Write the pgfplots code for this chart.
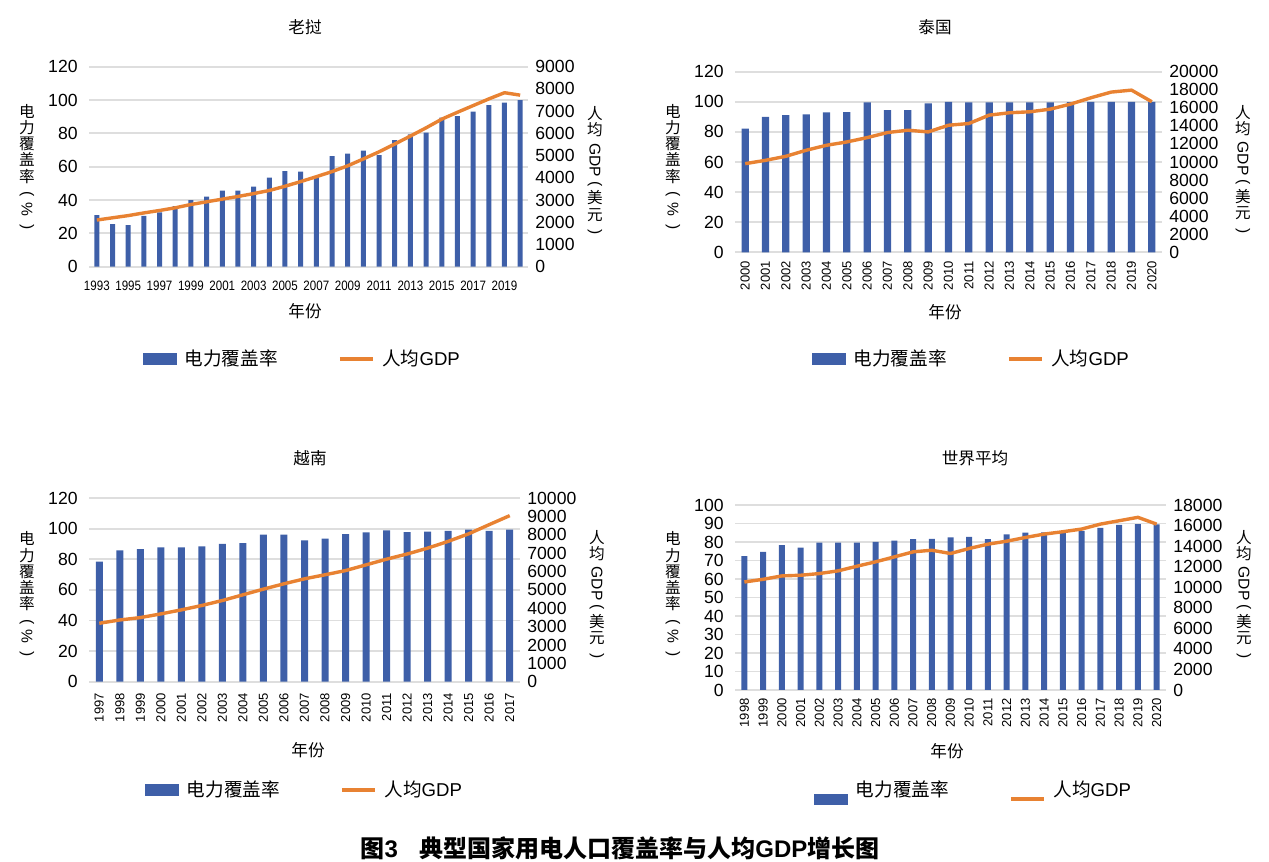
\documentclass[border=0pt]{standalone}
\usepackage{fontspec}
\setmainfont{Liberation Sans}
\newfontfamily\cjk{Noto Sans CJK SC}
\usepackage{pgfplots}
\usepackage{pgfplotstable}
\pgfplotsset{compat=1.18}
\definecolor{barblue}{RGB}{62,95,168}
\definecolor{lineor}{RGB}{232,130,50}
\definecolor{gridc}{RGB}{222,222,222}

\pgfplotstableread{
y c g
1993 31 2100
1994 25.6 2200
1995 25 2300
1996 30.5 2420
1997 32.6 2530
1998 36.4 2650
1999 40 2800
2000 42 2920
2001 45.6 3040
2002 45.6 3160
2003 48 3290
2004 53.4 3430
2005 57.4 3620
2006 57 3830
2007 54 4050
2008 66.4 4280
2009 67.8 4540
2010 69.6 4850
2011 67 5170
2012 76 5520
2013 79.4 5880
2014 80.5 6250
2015 89.4 6640
2016 90.4 6950
2017 93 7250
2018 97 7550
2019 98.4 7830
2020 100 7720
}\laos

\pgfplotstableread{
y c g
2000 82.2 9815
2001 90 10185
2002 91.1 10630
2003 91.6 11300
2004 92.9 11850
2005 93.1 12220
2006 99.6 12700
2007 94.4 13260
2008 94.4 13520
2009 98.9 13330
2010 100 14070
2011 99.6 14260
2012 99.6 15190
2013 99.6 15450
2014 99.6 15560
2015 99.6 15850
2016 99.8 16410
2017 100 17110
2018 100 17740
2019 100 17960
2020 100 16670
}\thai

\pgfplotstableread{
y c g
1997 78.5 3180
1998 85.8 3360
1999 86.6 3490
2000 87.7 3690
2001 87.7 3910
2002 88.4 4150
2003 90.1 4420
2004 90.6 4730
2005 96 5040
2006 96 5330
2007 92.3 5600
2008 93.4 5820
2009 96.4 6050
2010 97.5 6360
2011 98.8 6670
2012 97.7 6950
2013 98 7270
2014 98.6 7640
2015 99.3 8050
2016 98.6 8550
2017 99.3 9040
}\viet

\pgfplotstableread{
y c g
1998 72.3 10510
1999 74.7 10770
2000 78.3 11100
2001 77 11165
2002 79.6 11330
2003 79.6 11590
2004 79.6 12040
2005 80.1 12470
2006 80.7 12950
2007 81.6 13440
2008 81.7 13600
2009 82.5 13280
2010 82.8 13770
2011 81.6 14190
2012 84.1 14480
2013 85 14840
2014 85.2 15170
2015 85.5 15400
2016 86 15660
2017 87.7 16140
2018 89.2 16470
2019 89.7 16800
2020 89.5 16140
}\world

\pgfplotsset{
  base/.style={scale only axis, anchor=south west,
    axis line style={draw=none}, major tick length=0pt, tick style={draw=none},
    /pgf/number format/assume math mode=true,
    /pgf/number format/1000 sep={}, ymin=0, scaled y ticks=false},
  leftax/.style={base, ymajorgrids, grid style={gridc, line width=0.9pt},
    yticklabel style={font=\fontsize{8.8}{9}\selectfont, inner sep=0pt},
    yticklabel shift=5.5pt},
  rightax/.style={base, axis y line*=right, axis x line=none,
    yticklabel style={font=\fontsize{8.8}{9}\selectfont, inner sep=0pt, anchor=west},
    yticklabel shift=3.5pt},
  rotx/.style={xticklabel style={font=\fontsize{6.5}{7}\selectfont, rotate=90, anchor=east, inner sep=0pt}, xticklabel shift=#1},
  leg/.style n args={2}{legend columns=2, legend cell align=left,
    legend style={draw=none, fill=none, at={(#1,#2)}, anchor=west, inner sep=0pt,
      font=\cjk\fontsize{9.3}{10}\selectfont, nodes={inner sep=0pt},
      /tikz/every odd column/.append style={column sep=3.8pt},
      /tikz/every even column/.append style={column sep=30pt}}},
  lineimg/.style={legend image code/.code={\draw[lineor, line width=2pt] (0pt,#1)--(16.5pt,#1);}},
  barimg/.style={legend image code/.code={\fill[barblue] (0pt,-2.6pt+#1) rectangle (16.5pt,2.6pt+#1);}},
}
\newcommand{\rot}[1]{\rotatebox[origin=c]{-90}{\normalfont #1}}
\newcommand{\ylab}{电\\力\\覆\\盖\\率\\\rot{(}\\\rot{\%}\\\rot{)}}
\newcommand{\ylabr}{人\\均\\[2pt]\rot{GDP}\\[1pt]\rot{(}\\美\\元\\\rot{)}}
\tikzset{lab/.style={font=\cjk\fontsize{7.8}{8.1}\selectfont, align=center, inner sep=0pt},
  ttl/.style={font=\cjk\fontsize{8.3}{9}\selectfont, inner sep=0pt}}

\begin{document}
\begin{tikzpicture}
\useasboundingbox (0,0) rectangle (634.5pt,431pt);

% ---------- Laos ----------
\begin{axis}[leftax, at={(44.5pt,297.65pt)}, width=219.5pt, height=100pt,
  xmin=1992.5, xmax=2020.5, ymax=120, ytick={0,20,...,120},
  xtick={1993,1995,...,2019},
  xticklabel={\scalebox{0.85}[1]{\pgfmathprintnumber{\tick}}},
  xticklabel style={font=\fontsize{6.8}{7}\selectfont, inner sep=0pt, anchor=north},
  xticklabel shift=7pt]
\addplot[ybar, fill=barblue, draw=none, bar width=2.5pt] table[x=y, y=c] {\laos};
\end{axis}
\begin{axis}[rightax, at={(44.5pt,297.65pt)}, width=219.5pt, height=100pt,
  xmin=1992.5, xmax=2020.5, ymax=9000, ytick={0,1000,...,9000}, leg={0.123}{-0.4615}]
\addlegendimage{barimg=0pt}\addlegendentry{电力覆盖率}
\addplot[lineor, line width=1.7pt, line join=round, mark=none, lineimg=0pt] table[x=y, y=g] {\laos};
\addlegendentry{人均{\normalfont GDP}}
\end{axis}
\node[ttl] at (152.5pt,417.5pt) {老挝};
\node[ttl] at (152.5pt,275.5pt) {年份};
\node[lab] at (13.5pt,347.25pt) {\ylab};
\node[lab] at (297.5pt,345.25pt) {\ylabr};

% ---------- Thailand ----------
\begin{axis}[leftax, at={(367.5pt,304.85pt)}, width=213.5pt, height=90.3pt,
  xmin=1999.5, xmax=2020.5, ymax=120, ytick={0,20,...,120},
  xtick={2000,2001,...,2020}, rotx=4.3pt]
\addplot[ybar, fill=barblue, draw=none, bar width=3.6pt] table[x=y, y=c] {\thai};
\end{axis}
\begin{axis}[rightax, at={(367.5pt,304.85pt)}, width=213.5pt, height=90.3pt,
  xmin=1999.5, xmax=2020.5, ymax=20000, ytick={0,2000,...,20000}, leg={0.1803}{-0.5908}]
\addlegendimage{barimg=0pt}\addlegendentry{电力覆盖率}
\addplot[lineor, line width=1.7pt, line join=round, mark=none, lineimg=0pt] table[x=y, y=g] {\thai};
\addlegendentry{人均{\normalfont GDP}}
\end{axis}
\node[ttl] at (467.5pt,417.5pt) {泰国};
\node[ttl] at (472.5pt,275pt) {年份};
\node[lab] at (336.5pt,347.25pt) {\ylab};
\node[lab] at (621.5pt,346pt) {\ylabr};

% ---------- Vietnam ----------
\begin{axis}[leftax, at={(44.5pt,90.15pt)}, width=215.5pt, height=91.85pt,
  xmin=1996.5, xmax=2017.5, ymax=120, ytick={0,20,...,120},
  xtick={1997,1998,...,2017}, rotx=5.5pt]
\addplot[ybar, fill=barblue, draw=none, bar width=3.5pt] table[x=y, y=c] {\viet};
\end{axis}
\begin{axis}[rightax, at={(44.5pt,90.15pt)}, width=215.5pt, height=91.85pt,
  xmin=1996.5, xmax=2017.5, ymax=10000, ytick={0,1000,...,10000}, leg={0.130}{-0.5895}]
\addlegendimage{barimg=0pt}\addlegendentry{电力覆盖率}
\addplot[lineor, line width=1.7pt, line join=round, mark=none, lineimg=0pt] table[x=y, y=g] {\viet};
\addlegendentry{人均{\normalfont GDP}}
\end{axis}
\node[ttl] at (155pt,202pt) {越南};
\node[ttl] at (154pt,56pt) {年份};
\node[lab] at (13.5pt,133.5pt) {\ylab};
\node[lab] at (298.5pt,133.5pt) {\ylabr};

% ---------- World ----------
\begin{axis}[leftax, at={(367.5pt,86pt)}, width=215.5pt, height=92.5pt,
  xmin=1997.5, xmax=2020.5, ymax=100, ytick={0,10,...,100},
  xtick={1998,1999,...,2020}, rotx=4pt]
\addplot[ybar, fill=barblue, draw=none, bar width=3pt] table[x=y, y=c] {\world};
\end{axis}
\begin{axis}[rightax, at={(367.5pt,86pt)}, width=215.5pt, height=92.5pt,
  xmin=1997.5, xmax=2020.5, ymax=18000, ytick={0,2000,...,18000}, leg={0.1833}{-0.557}]
\addlegendimage{barimg=-4.5pt}\addlegendentry{电力覆盖率}
\addplot[lineor, line width=1.7pt, line join=round, mark=none, lineimg=-4.5pt] table[x=y, y=g] {\world};
\addlegendentry{人均{\normalfont GDP}}
\end{axis}
\node[ttl] at (487.5pt,202pt) {世界平均};
\node[ttl] at (473.5pt,55.5pt) {年份};
\node[lab] at (336.5pt,133.5pt) {\ylab};
\node[lab] at (622pt,133.5pt) {\ylabr};

% ---------- caption ----------
\node[font=\cjk\bfseries\fontsize{12}{13}\selectfont, inner sep=0pt] at (310pt,7pt)
  {图{\normalfont\bfseries 3}\hspace{0.9em}典型国家用电人口覆盖率与人均{\normalfont\bfseries GDP}增长图};
\end{tikzpicture}
\end{document}
